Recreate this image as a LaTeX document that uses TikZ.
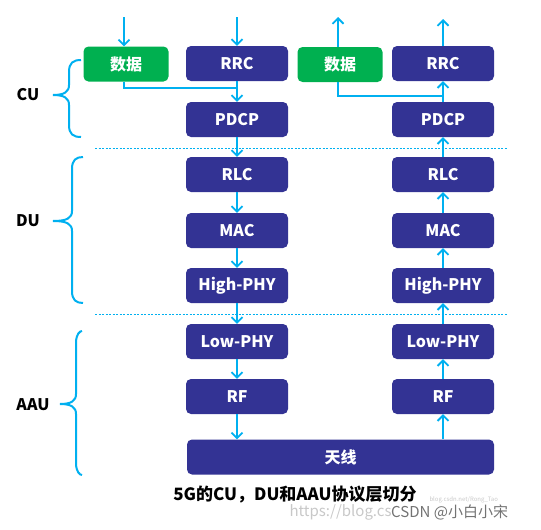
\documentclass[tikz,border=0pt]{standalone}
\usepackage{fontspec}
\setmainfont{Noto Sans CJK SC}
\usetikzlibrary{arrows.meta}
\definecolor{navy}{RGB}{51,51,148}
\definecolor{dgreen}{RGB}{0,176,80}
\definecolor{sky}{RGB}{0,176,240}
\definecolor{wm}{RGB}{200,200,200}
\newcommand\mybrace[6]{% top, bottom, mid, end x, vertical x, tip x
  \draw[bracestyle] (#4,#1) .. controls (#5+4,#1) and (#5,#1+3) .. (#5,#1+12)
    -- (#5,#3-10) .. controls (#5,#3-3) and (#5-5,#3) .. (#6,#3)
    .. controls (#5-5,#3) and (#5,#3+3) .. (#5,#3+10)
    -- (#5,#2-12) .. controls (#5,#2-3) and (#5+4,#2) .. (#4,#2);}
\begin{document}
\begin{tikzpicture}[x=1pt,y=-1pt,
  layerbox/.style={fill=navy, rounded corners=5pt, minimum width=102pt, minimum height=35pt,
    inner sep=0pt, text=white, font=\bfseries\fontsize{16}{19}\selectfont},
  databox/.style={layerbox, fill=dgreen, minimum width=85pt},
  arr/.style={draw=sky, line width=2pt, -{Straight Barb[length=5.5pt,width=11pt,line width=1.8pt]}},
  plain/.style={draw=sky, line width=2pt},
  sep/.style={draw=sky, line width=0.7pt, dash pattern=on 2pt off 1.5pt},
  bracestyle/.style={draw=sky, line width=2pt},
  side/.style={font=\bfseries\fontsize{16}{19}\selectfont, text=black}]
\useasboundingbox (0,0) rectangle (541,530);
% left column
\node[databox] (dL) at (126,64) {数据};
\node[layerbox] (rrcL) at (237,63.5) {RRC};
\node[layerbox] (pdcpL) at (237,119.5) {PDCP};
\node[layerbox] (rlcL) at (237,174.5) {RLC};
\node[layerbox] (macL) at (237,230.5) {MAC};
\node[layerbox] (hphyL) at (237,285.5) {High-PHY};
\node[layerbox] (lphyL) at (237,341.5) {Low-PHY};
\node[layerbox] (rfL) at (237,396.5) {RF};
% right column
\node[databox] (dR) at (340,64.5) {数据};
\node[layerbox] (rrcR) at (443,63.5) {RRC};
\node[layerbox] (pdcpR) at (443,119.5) {PDCP};
\node[layerbox] (rlcR) at (443,174.5) {RLC};
\node[layerbox] (macR) at (443,230.5) {MAC};
\node[layerbox] (hphyR) at (443,285.5) {High-PHY};
\node[layerbox] (lphyR) at (443,341.5) {Low-PHY};
\node[layerbox] (rfR) at (443,396.5) {RF};
% antenna
\node[layerbox, minimum width=307pt] (ant) at (340.5,457) {天线};
% free ends
\coordinate (inD) at (124,17);
\coordinate (inR) at (237,17);
\coordinate (outD) at (338,17);
\coordinate (outR) at (443,19);
\coordinate (jL) at (237,88);
\coordinate (jR) at (443,96);
% left (downlink) arrows
\draw[arr] (inD) -- (inD |- dL.north);
\draw[arr] (inR) -- (rrcL.north);
\draw[plain] (inD |- dL.south) |- (jL);
\draw[arr] (rrcL.south) -- (pdcpL.north);
\draw[arr] (pdcpL.south) -- (rlcL.north);
\draw[arr] (rlcL.south) -- (macL.north);
\draw[arr] (macL.south) -- (hphyL.north);
\draw[arr] (hphyL.south) -- (lphyL.north);
\draw[arr] (lphyL.south) -- (rfL.north);
\draw[arr] (rfL.south) -- (rfL.south |- ant.north);
% right (uplink) arrows
\draw[arr] (outD |- dR.north) -- (outD);
\draw[arr] (rrcR.north) -- (outR);
\draw[plain] (outD |- dR.south) |- (jR);
\draw[arr] (pdcpR.north) -- (rrcR.south);
\draw[arr] (rlcR.north) -- (pdcpR.south);
\draw[arr] (macR.north) -- (rlcR.south);
\draw[arr] (hphyR.north) -- (macR.south);
\draw[arr] (lphyR.north) -- (hphyR.south);
\draw[arr] (rfR.north) -- (lphyR.south);
\draw[arr] (rfR.south |- ant.north) -- (rfR.south);
% separators
\coordinate (s1a) at (95,148); \coordinate (s1b) at (508,148);
\coordinate (s2a) at (95,314); \coordinate (s2b) at (508,314);
\draw[sep] (s1a) -- (s1b);
\draw[sep] (s2a) -- (s2b);
% braces and labels
\mybrace{60}{137}{95}{81}{69}{53}
\mybrace{157}{303}{221}{83}{72}{53}
\mybrace{331}{475}{404}{82}{76}{60}
\node[side] (cu) at (28,95) {CU};
\node[side] (du) at (28,221) {DU};
\node[side] (aau) at (33,405) {AAU};
% caption
\node[font=\bfseries\fontsize{17}{20}\selectfont] (cap) at (295,495) {5G的CU，DU和AAU协议层切分};
% watermark
\node[anchor=west, text=wm, font=\fontsize{6}{7}\selectfont] (wm1) at (426,500) {blog.csdn.net/Rong\_Tao};
\node[anchor=west, text=wm, font=\fontsize{15}{18}\selectfont] (wm2) at (286,512) {https://blog.cs};
\node[anchor=west, text=black!55, inner sep=0pt, font=\fontsize{15}{18}\selectfont] (wm3) at (391,512) {CSDN @小白小宋};
\end{tikzpicture}
\end{document}
